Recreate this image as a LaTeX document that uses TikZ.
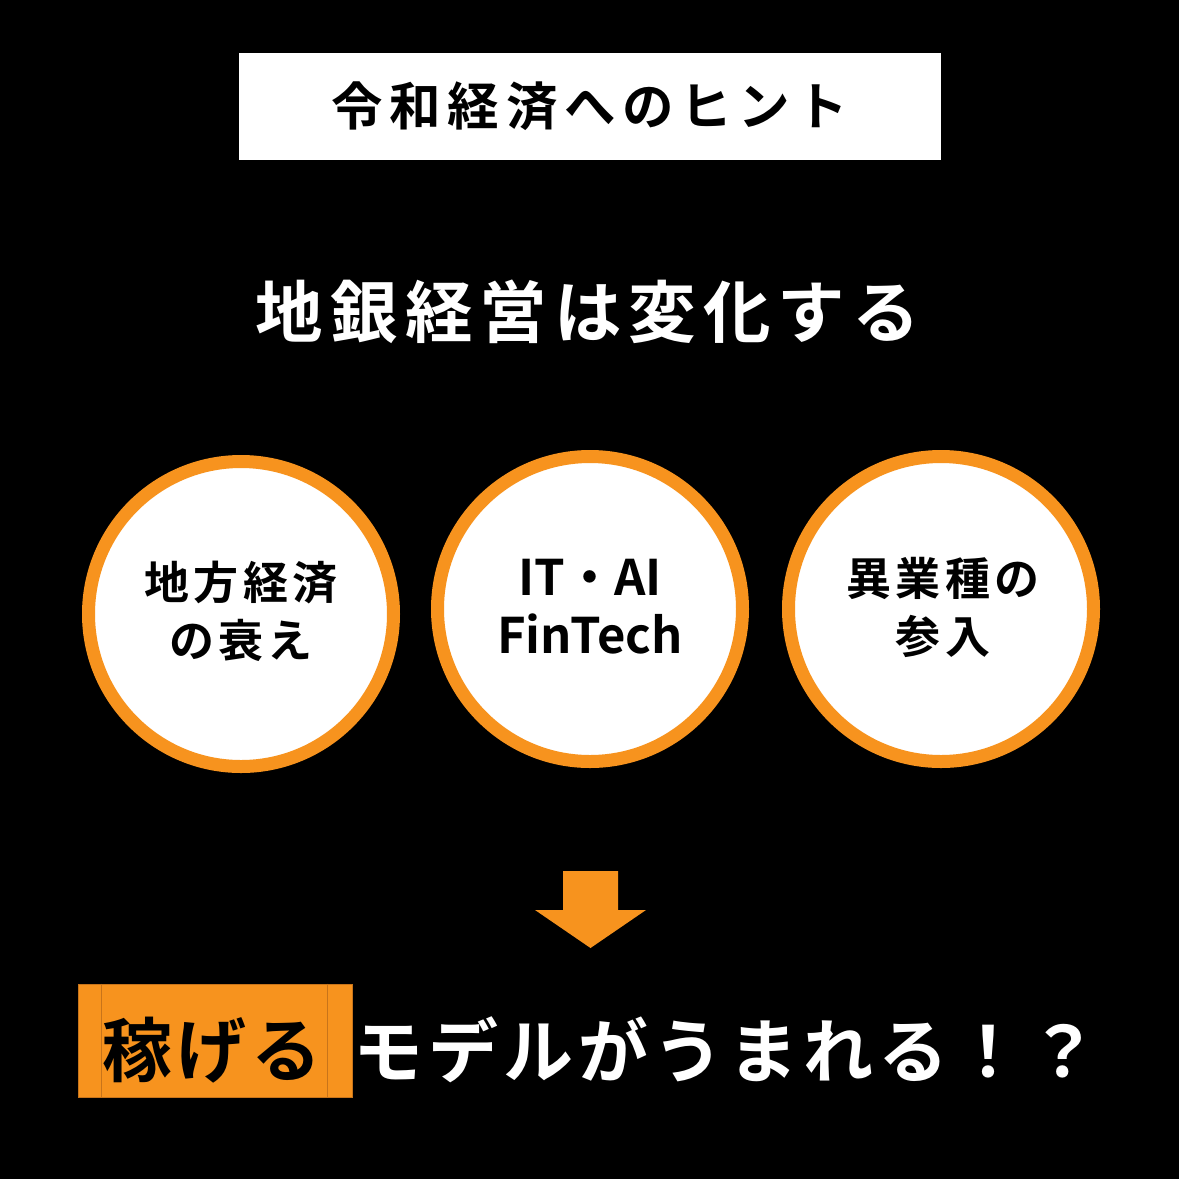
\documentclass[tikz,border=0pt]{standalone}
\usepackage{fontspec}
\setmainfont{Noto Sans CJK JP}[BoldFont={Noto Sans CJK JP Bold}]
\definecolor{orng}{HTML}{F7931E}
\definecolor{orngdk}{HTML}{C8741A}
\begin{document}
\begin{tikzpicture}[x=1pt,y=-1pt,
  circ/.style={circle,draw=orng,fill=white,line width=13pt,minimum size=305pt,inner sep=0pt},
  ctext/.style={align=center,inner sep=0pt,text=black,font=\bfseries\fontsize{45}{58}\selectfont\addfontfeatures{LetterSpace=10}},
  bigtext/.style={inner sep=0pt,font=\bfseries\fontsize{70}{80}\selectfont\addfontfeatures{LetterSpace=7}}
]
\fill[black] (0,0) rectangle (1179,1179);
\useasboundingbox (0,0) rectangle (1179,1179);
% title
\node[fill=white,minimum width=702pt,minimum height=107pt,inner sep=0pt,
  font=\bfseries\fontsize{51.5}{60}\selectfont\addfontfeatures{LetterSpace=13}] (title) at (590,106.5) {令和経済へのヒント};
% heading
\node[text=white,inner sep=0pt,font=\bfseries\fontsize{67.5}{76}\selectfont\addfontfeatures{LetterSpace=10.5}] (head) at (588,312) {地銀経営は変化する};
% circles
\node[circ] (c1) at (241,614) {};
\node[circ] (c2) at (590,609) {};
\node[circ] (c3) at (941,609) {};
\node[ctext] (t1) at (241,611) {地方経済\\の衰え};
\node[align=center,inner sep=0pt,text=black,font=\bfseries\fontsize{49}{58}\selectfont] (t2) at (590,607) {IT・AI\\FinTech};
\node[ctext] (t3) at (943,607) {異業種の\\参入};
% arrow
\fill[orng] (563,871) -- (618,871) -- (618,910) -- (646,910) -- (590.5,948) -- (535,910) -- (563,910) -- cycle;
% bottom
\node[fill=orng,draw=orngdk,line width=1pt,minimum width=274pt,minimum height=113pt,inner sep=0pt] (kbox) at (215,1040.5) {};
\draw[orngdk,line width=1pt] ([xshift=24pt]kbox.north west) -- ([xshift=24pt]kbox.south west);
\draw[orngdk,line width=1pt] ([xshift=-25pt]kbox.north east) -- ([xshift=-25pt]kbox.south east);
\node[bigtext,text=black] (kase) at (212,1050) {稼げる};
\node[bigtext,text=white] (model) at (726,1050) {モデルがうまれる！？};
\end{tikzpicture}
\end{document}
